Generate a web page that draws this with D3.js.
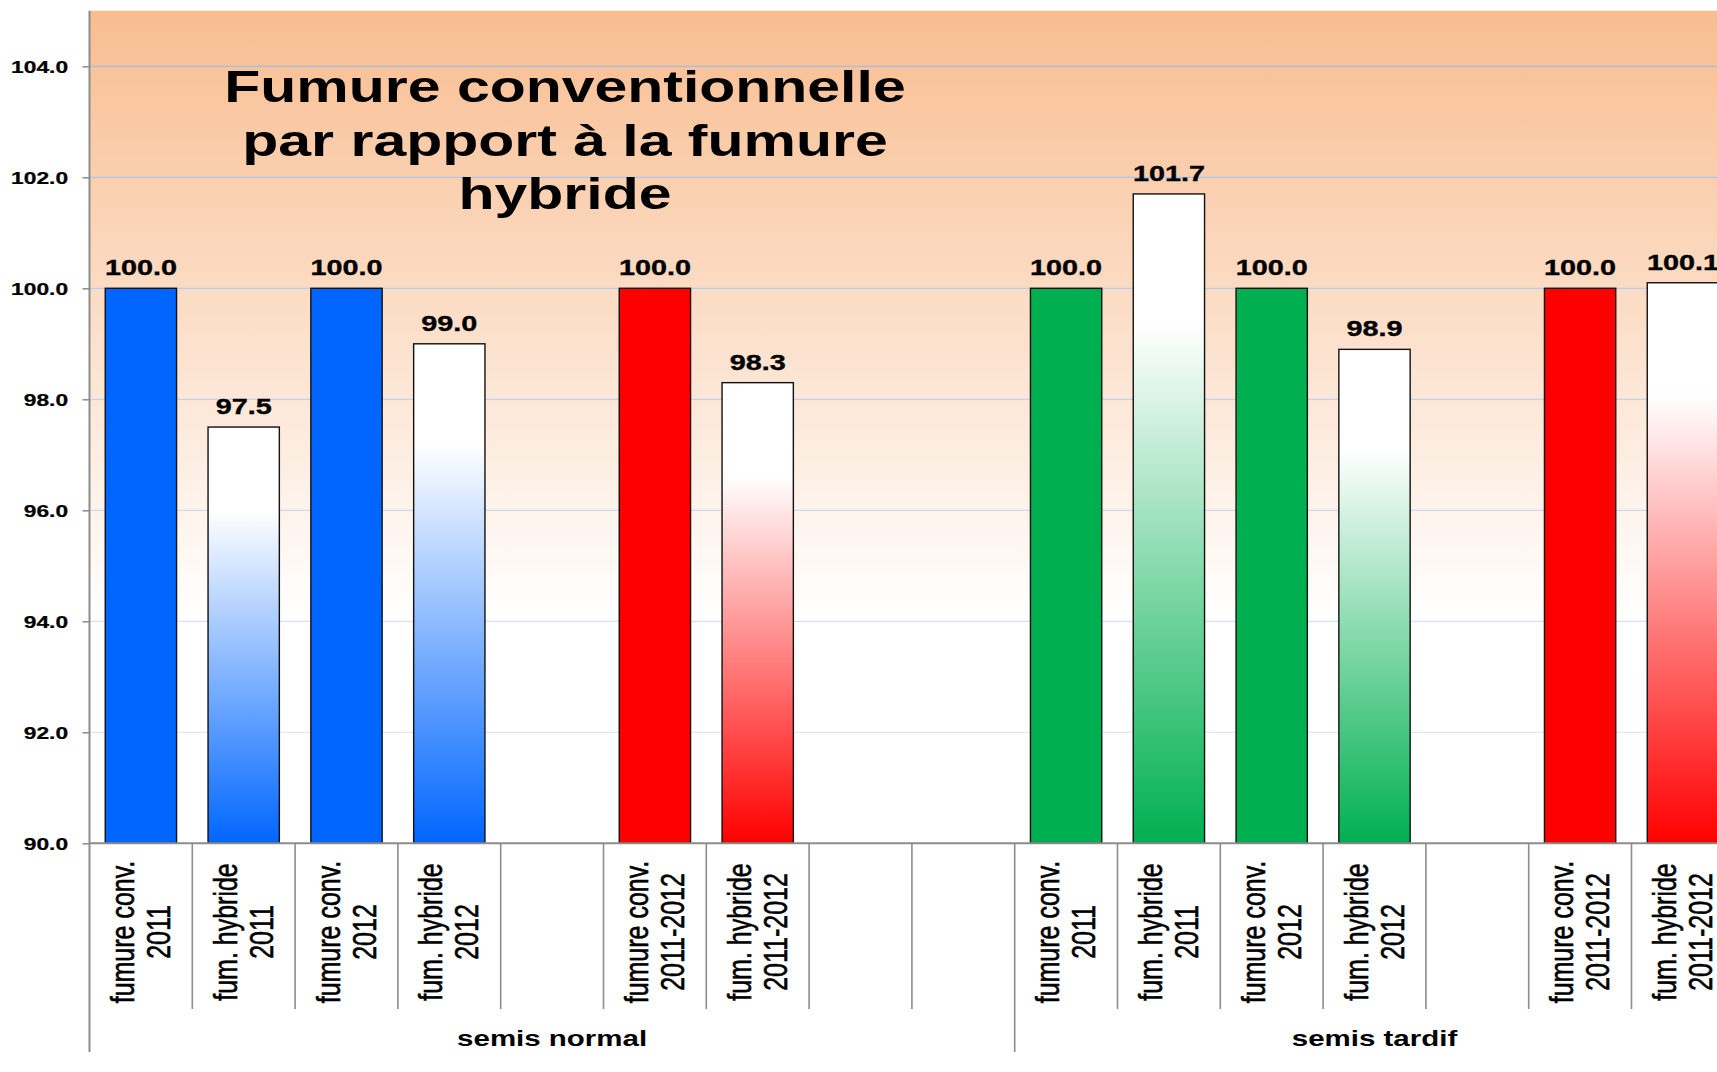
<!DOCTYPE html>
<html>
<head>
<meta charset="utf-8">
<script src="https://cdn.jsdelivr.net/npm/d3@7"></script>
<style>
  html, body { margin: 0; padding: 0; background: #ffffff; overflow: hidden; }
  svg { display: block; font-family: "Liberation Sans", Arial, Helvetica, sans-serif; }
</style>
</head>
<body>
<svg id="chart" width="1717" height="1072"></svg>
<script>
// ---------- data ----------
const titleLines = ["Fumure conventionnelle", "par rapport à la fumure", "hybride"];
const catLine1 = ["fumure conv.", "fum. hybride", "fumure conv.", "fum. hybride", "", "fumure conv.", "fum. hybride", "", "",
                  "fumure conv.", "fum. hybride", "fumure conv.", "fum. hybride", "", "fumure conv.", "fum. hybride"];
const catLine2 = ["2011", "2011", "2012", "2012", "", "2011-2012", "2011-2012", "", "",
                  "2011", "2011", "2012", "2012", "", "2011-2012", "2011-2012"];
const values = [100.0, 97.5, 100.0, 99.0, null, 100.0, 98.3, null, null,
                100.0, 101.7, 100.0, 98.9, null, 100.0, 100.1];
const barColor = ["#0066ff", "#0066ff", "#0066ff", "#0066ff", null, "#ff0000", "#ff0000", null, null,
                  "#00b050", "#00b050", "#00b050", "#00b050", null, "#ff0000", "#ff0000"];
const barFill = ["solid", "fade", "solid", "fade", null, "solid", "fade", null, null,
                 "solid", "fade", "solid", "fade", null, "solid", "fade"];
const groupNames = ["semis normal", "semis tardif"];
const groupSizes = [9, 7];
const yTicks = [90, 92, 94, 96, 98, 100, 102, 104];
const yDomain = [90, 105];

// ---------- layout ----------
const SX = 1.34;             // horizontal stretch of the original picture
const plotLeft = 89.5, step = 102.8;
const plotTop = 10.8, plotBottom = 843.3;
const n = values.length;

const svg = d3.select("#chart");
const defs = svg.append("defs");

const x = d3.scaleBand().domain(d3.range(n)).range([plotLeft, plotLeft + n * step]).padding(0);
const y = d3.scaleLinear().domain(yDomain).range([plotBottom, plotTop]);
const barInset = 15.75;

// background gradient
const bg = defs.append("linearGradient").attr("id", "bgGrad")
  .attr("gradientUnits", "userSpaceOnUse").attr("x1", 0).attr("x2", 0)
  .attr("y1", plotTop).attr("y2", plotBottom);
bg.append("stop").attr("offset", 0).attr("stop-color", "#f8bd90");
bg.append("stop").attr("offset", 0.73).attr("stop-color", "#ffffff");
bg.append("stop").attr("offset", 1).attr("stop-color", "#ffffff");

svg.append("rect")
  .attr("x", plotLeft).attr("y", plotTop)
  .attr("width", n * step).attr("height", plotBottom - plotTop)
  .attr("fill", "url(#bgGrad)");

// gridlines
const gridColor = d3.scaleLinear().domain([92, 104]).range(["#e3e7f7", "#9fbef0"]);
svg.append("g").selectAll("line")
  .data(yTicks.filter(t => t > yDomain[0]))
  .join("line")
  .attr("x1", plotLeft).attr("x2", plotLeft + n * step)
  .attr("y1", d => y(d)).attr("y2", d => y(d))
  .attr("stroke", d => gridColor(d)).attr("stroke-width", 1.3);

// bar gradients
const uniqueColors = Array.from(new Set(barColor.filter(c => c)));
uniqueColors.forEach(c => {
  const g = defs.append("linearGradient").attr("id", "fade" + c.slice(1))
    .attr("x1", 0).attr("x2", 0).attr("y1", 0).attr("y2", 1);
  g.append("stop").attr("offset", 0).attr("stop-color", "#ffffff");
  g.append("stop").attr("offset", 0.2).attr("stop-color", "#ffffff");
  g.append("stop").attr("offset", 1).attr("stop-color", c);
});

const barData = values.map((v, i) => ({ i, v, c: barColor[i], f: barFill[i] })).filter(d => d.v != null);

svg.append("g").selectAll("rect")
  .data(barData)
  .join("rect")
  .attr("x", d => x(d.i) + barInset)
  .attr("width", x.bandwidth() - 2 * barInset)
  .attr("y", d => y(d.v))
  .attr("height", d => y(yDomain[0]) - y(d.v))
  .attr("fill", d => d.f === "fade" ? "url(#fade" + d.c.slice(1) + ")" : d.c)
  .attr("stroke", "#111").attr("stroke-width", 1.4);

// value labels
svg.append("g").selectAll("text")
  .data(barData)
  .join("text")
  .attr("transform", d => `translate(${x(d.i) + x.bandwidth() / 2},${y(d.v) - 13}) scale(${SX},1)`)
  .attr("text-anchor", "middle")
  .attr("font-size", 21.5).attr("font-weight", "bold").attr("fill", "#000")
  .attr("stroke", "#000").attr("stroke-width", 0.35)
  .text(d => d3.format(".1f")(d.v));

// y axis
const yAxis = svg.append("g").attr("transform", `translate(${plotLeft},0)`)
  .call(d3.axisLeft(y).tickValues(yTicks).tickFormat(d3.format(".1f")).tickSize(7).tickPadding(0));
yAxis.select(".domain").remove();
yAxis.selectAll(".tick line").attr("stroke", "#8c8c8c").attr("stroke-width", 1.5);
yAxis.selectAll(".tick text")
  .attr("x", -16).attr("dy", "0.36em")
  .attr("transform", `scale(${SX},1)`)
  .attr("font-size", 17).attr("font-weight", "bold").attr("fill", "#000")
  .attr("stroke", "#000").attr("stroke-width", 0.25)
  .attr("font-family", "'Liberation Sans', Arial, sans-serif");

// left axis line
svg.append("line").attr("x1", plotLeft).attr("x2", plotLeft).attr("y1", plotTop).attr("y2", 1052)
  .attr("stroke", "#8c8c8c").attr("stroke-width", 2);
// x axis line
svg.append("line").attr("x1", plotLeft).attr("x2", plotLeft + n * step).attr("y1", plotBottom).attr("y2", plotBottom)
  .attr("stroke", "#8c8c8c").attr("stroke-width", 2);

// group boundaries and category separators
const groupStarts = groupSizes.map((s, i) => d3.sum(groupSizes.slice(0, i)));
const boundaryIdx = new Set(groupStarts.concat([n]));
svg.append("g").selectAll("line")
  .data(d3.range(1, n + 1))
  .join("line")
  .attr("x1", d => plotLeft + d * step).attr("x2", d => plotLeft + d * step)
  .attr("y1", plotBottom).attr("y2", d => boundaryIdx.has(d) ? 1052 : 1009)
  .attr("stroke", "#8c8c8c").attr("stroke-width", 1.6);

// category labels
const catG = svg.append("g").selectAll("text")
  .data(d3.range(n).filter(i => catLine1[i] !== ""))
  .join("text")
  .attr("transform", i => `translate(${x(i) + x.bandwidth() / 2},932) scale(${SX},1) rotate(-90)`)
  .attr("text-anchor", "middle")
  .attr("font-size", 25).attr("fill", "#000")
  .attr("stroke", "#000").attr("stroke-width", 0.45);
catG.append("tspan").attr("x", 0).attr("y", -7 / SX).text(i => catLine1[i]);
catG.append("tspan").attr("x", 0).attr("y", 29 / SX).text(i => catLine2[i]);

// group labels
svg.append("g").selectAll("text")
  .data(groupNames.map((g, i) => ({ g, s: groupStarts[i], k: groupSizes[i] })))
  .join("text")
  .attr("transform", d => `translate(${plotLeft + (d.s + d.k / 2) * step},1046) scale(${SX},1)`)
  .attr("text-anchor", "middle")
  .attr("font-size", 22).attr("font-weight", "bold").attr("fill", "#000")
  .text(d => d.g);

// title
const title = svg.append("text")
  .attr("transform", `translate(565,0) scale(${SX},1)`)
  .attr("text-anchor", "middle")
  .attr("font-size", 44).attr("font-weight", "bold").attr("fill", "#000");
const titleY = [101.7, 156, 209.5];
title.selectAll("tspan").data(titleLines).join("tspan")
  .attr("x", 0).attr("y", (d, i) => titleY[i]).text(d => d);
</script>
</body>
</html>
